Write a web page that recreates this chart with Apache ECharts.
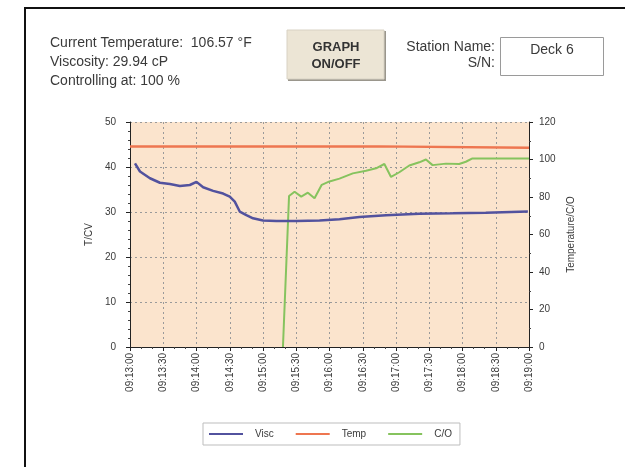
<!DOCTYPE html>
<html>
<head>
<meta charset="utf-8">
<script src="https://cdn.jsdelivr.net/npm/echarts@6/dist/echarts.min.js"></script>
<style>
  html, body { margin: 0; padding: 0; background: #fff; }
  #chart { width: 625px; height: 467px; }
</style>
</head>
<body>
<div id="chart"></div>
<script>
// seconds after 09:13:00
const tickLabels = ['09:13:00', '09:13:30', '09:14:00', '09:14:30', '09:15:00', '09:15:30', '09:16:00',
  '09:16:30', '09:17:00', '09:17:30', '09:18:00', '09:18:30', '09:19:00'];

const viscSec = [4.5, 9, 18, 27, 36, 45, 54, 60, 66, 75, 84, 90, 94.5, 99, 105, 111, 120, 132, 150, 171, 189, 207, 231, 261, 291, 321, 359];
const viscVal = [40.8, 39.0, 37.5, 36.5, 36.2, 35.8, 36.0, 36.7, 35.5, 34.7, 34.1, 33.4, 32.3, 30.1, 29.3, 28.6, 28.1, 28.0, 28.0, 28.1, 28.4, 28.9, 29.3, 29.6, 29.7, 29.85, 30.1];

const tempSec = [0, 224, 224, 360];
const tempVal = [107.0, 107.0, 106.3, 106.3];

const coSec = [138, 143.5, 148.5, 154.5, 160.5, 166.5, 173, 180, 189, 201, 213, 222, 229.5, 235.5, 243, 252, 261, 267, 273, 285, 297, 303, 309, 360];
const coVal = [0, 80.5, 82.8, 80.2, 82.3, 79.3, 86.5, 88.3, 89.8, 92.6, 94, 95.3, 97.6, 90.7, 93.2, 96.8, 98.5, 100, 97, 97.8, 97.6, 98.8, 100.6, 100.6];

const zip = (xs, ys) => xs.map((x, i) => [x, ys[i]]);

const chart = echarts.init(document.getElementById('chart'));
const txt = '#3a3a3a';
const hdrFont = '14px "Liberation Sans", Arial, sans-serif';

chart.setOption({
  animation: false,
  textStyle: { fontFamily: '"Liberation Sans", Arial, sans-serif' },
  grid: {
    left: 130, right: 96, top: 122, bottom: 120,
    show: true, backgroundColor: '#fbe4cd', borderWidth: 0
  },
  legend: {
    left: 203, top: 423,
    icon: 'rect', itemWidth: 34, itemHeight: 2, itemGap: 22,
    padding: [6, 8, 6, 6],
    borderColor: '#bdbdbd', borderWidth: 1, backgroundColor: '#fff',
    textStyle: { fontSize: 10, color: txt, padding: [0, 0, 0, 7] },
    data: ['Visc', 'Temp', 'C/O']
  },
  xAxis: {
    type: 'value', min: 0, max: 360, interval: 30,
    axisLine: { lineStyle: { color: '#222' } },
    axisTick: { length: 4, lineStyle: { color: '#222' } },
    minorTick: { show: true, splitNumber: 3, length: 2, lineStyle: { color: '#444' } },
    splitLine: { show: true, lineStyle: { color: '#9a9a9a', type: [2, 3] } },
    axisLabel: {
      rotate: 90, fontSize: 10, color: txt, margin: 6,
      formatter: v => tickLabels[Math.round(v / 30)]
    }
  },
  yAxis: [
    {
      type: 'value', min: 0, max: 50, interval: 10, position: 'left',
      name: 'T/CV', nameLocation: 'middle', nameGap: 36, nameRotate: 90,
      nameTextStyle: { fontSize: 10, color: txt },
      axisLine: { show: true, lineStyle: { color: '#222' } },
      axisTick: { show: true, length: 4, lineStyle: { color: '#222' } },
      minorTick: { show: true, splitNumber: 5, length: 2, lineStyle: { color: '#444' } },
      splitLine: { show: true, lineStyle: { color: '#9a9a9a', type: [2, 3] } },
      axisLabel: { fontSize: 10, color: txt, margin: 14 }
    },
    {
      type: 'value', min: 0, max: 120, interval: 20, position: 'right',
      name: 'Temperature/C/O', nameLocation: 'middle', nameGap: 27, nameRotate: 90,
      nameTextStyle: { fontSize: 10, color: txt },
      axisLine: { show: true, lineStyle: { color: '#222' } },
      axisTick: { show: true, length: 4, lineStyle: { color: '#222' } },
      minorTick: { show: true, splitNumber: 2, length: 2, lineStyle: { color: '#444' } },
      splitLine: { show: false },
      axisLabel: { fontSize: 10, color: txt, margin: 10 }
    }
  ],
  series: [
    {
      name: 'Visc', type: 'line', yAxisIndex: 0, data: zip(viscSec, viscVal),
      showSymbol: false, color: '#52529e', lineStyle: { width: 2.5 }, z: 3
    },
    {
      name: 'Temp', type: 'line', yAxisIndex: 1, data: zip(tempSec, tempVal),
      showSymbol: false, color: '#ee7650', lineStyle: { width: 2.5 }, z: 2
    },
    {
      name: 'C/O', type: 'line', yAxisIndex: 1, data: zip(coSec, coVal),
      showSymbol: false, color: '#86c35e', lineStyle: { width: 2 }, z: 2
    }
  ],
  graphic: [
    { type: 'rect', shape: { x: 24, y: 7, width: 700, height: 2 }, style: { fill: '#111' } },
    { type: 'rect', shape: { x: 24, y: 7, width: 2, height: 500 }, style: { fill: '#111' } },
    { type: 'text', x: 50, y: 43, style: { text: 'Current Temperature:  106.57 °F', font: hdrFont, fill: txt, verticalAlign: 'middle' } },
    { type: 'text', x: 50, y: 62, style: { text: 'Viscosity: 29.94 cP', font: hdrFont, fill: txt, verticalAlign: 'middle' } },
    { type: 'text', x: 50, y: 81, style: { text: 'Controlling at: 100 %', font: hdrFont, fill: txt, verticalAlign: 'middle' } },
    { type: 'rect', shape: { x: 288, y: 31, width: 98, height: 50 }, style: { fill: '#9a968c' } },
    { type: 'rect', shape: { x: 287, y: 30, width: 97, height: 49 }, style: { fill: '#ece5d5', stroke: '#d8d2c4', lineWidth: 1 } },
    { type: 'text', x: 336, y: 47, style: { text: 'GRAPH', font: 'bold 13px "Liberation Sans", Arial, sans-serif', fill: '#333', align: 'center', verticalAlign: 'middle' } },
    { type: 'text', x: 336, y: 64, style: { text: 'ON/OFF', font: 'bold 13px "Liberation Sans", Arial, sans-serif', fill: '#333', align: 'center', verticalAlign: 'middle' } },
    { type: 'text', x: 495, y: 47, style: { text: 'Station Name:', font: hdrFont, fill: txt, align: 'right', verticalAlign: 'middle' } },
    { type: 'text', x: 495, y: 63, style: { text: 'S/N:', font: hdrFont, fill: txt, align: 'right', verticalAlign: 'middle' } },
    { type: 'rect', shape: { x: 500.5, y: 37.5, width: 103, height: 38 }, style: { fill: '#fff', stroke: '#9a9a9a', lineWidth: 1 } },
    { type: 'text', x: 552, y: 50, style: { text: 'Deck 6', font: hdrFont, fill: txt, align: 'center', verticalAlign: 'middle' } }
  ]
});
</script>
</body>
</html>
